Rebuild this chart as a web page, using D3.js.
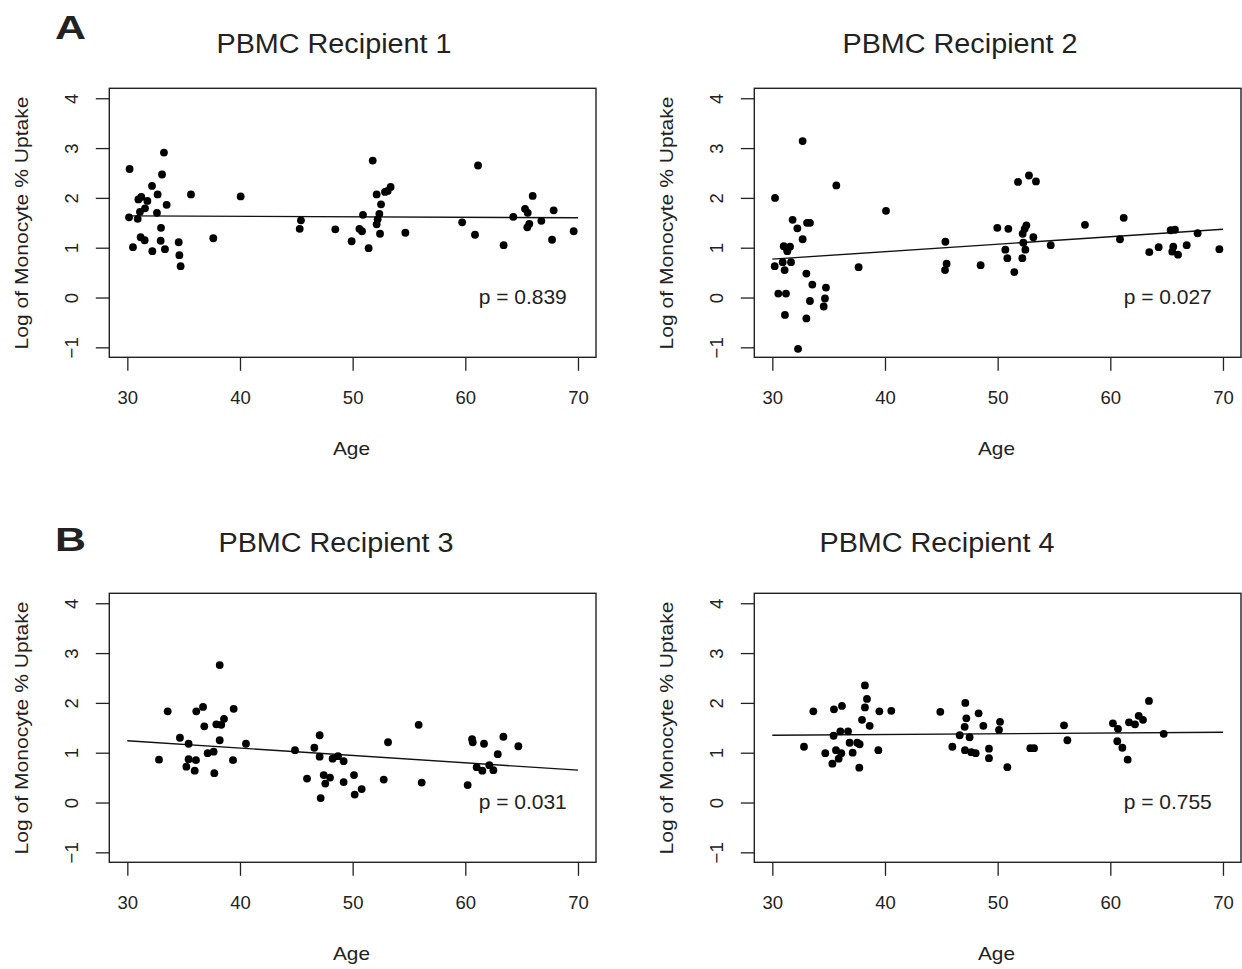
<!DOCTYPE html>
<html>
<head>
<meta charset="utf-8">
<script src="https://cdn.jsdelivr.net/npm/d3@7"></script>
<style>
  html, body { margin: 0; padding: 0; background: #fff; }
  svg { display: block; }
  text { font-family: "Liberation Sans", Arial, Helvetica, sans-serif; fill: #222; }
</style>
</head>
<body>
<svg id="chart" width="1242" height="969"></svg>
<script>
// ---------------- DATA ----------------
const panelTitles = ["PBMC Recipient 1", "PBMC Recipient 2", "PBMC Recipient 3", "PBMC Recipient 4"];
const pValues = ["p = 0.839", "p = 0.027", "p = 0.031", "p = 0.755"];
const rowLetters = ["A", "B"];
const xTicks = [30, 40, 50, 60, 70];
const yTicks = [-1, 0, 1, 2, 3, 4];
const xLabel = "Age";
const yLabel = "Log of Monocyte % Uptake";
const fitAges = [30, 70];

const ages1 = [33.25,30.2,33.08,32.19,32.69,31.24,30.98,31.78,33.49,35.65,40.06,31.57,31.12,32.63,30.15,30.92,32.99,31.18,31.54,32.96,30.5,33.34,32.22,34.56,34.62,34.73,37.63,45.41,45.30,48.46,49.91,
  51.78,61.13,53.37,53.11,52.87,52.13,65.98,52.52,65.30,65.54,67.84,50.92,52.37,64.26,52.22,66.75,52.13,65.68,65.50,59.72,50.60,50.83,52.43,54.68,51.42,60.86,63.40,67.70,69.62];
const vals1 = [2.91,2.58,2.47,2.24,2.07,2.02,1.97,1.94,1.86,2.07,2.03,1.79,1.72,1.70,1.61,1.58,1.40,1.21,1.15,1.14,1.01,0.97,0.93,1.11,0.85,0.63,1.19,1.55,1.38,1.37,1.13,
  2.75,2.65,2.22,2.14,2.12,2.07,2.04,1.87,1.78,1.70,1.75,1.66,1.68,1.62,1.57,1.54,1.47,1.48,1.41,1.51,1.38,1.33,1.28,1.30,0.99,1.26,1.05,1.16,1.33];
const fit1 = [1.64, 1.60];

const ages2 = [32.69,35.68,30.24,40.09,31.80,33.08,33.34,32.22,32.69,31.01,31.27,31.57,31.33,30.92,31.66,30.21,31.09,33.02,37.66,33.55,34.76,30.53,31.21,34.67,33.34,34.56,31.12,33.02,32.28,45.36,45.47,45.33,48.49,
  52.78,51.81,53.40,61.19,57.75,49.97,50.95,52.55,52.40,52.22,53.17,65.36,65.74,67.75,60.86,54.71,52.28,52.46,50.68,50.86,52.19,51.48,63.46,64.29,65.59,65.50,66.01,66.78,69.68];
const vals2 = [3.14,2.25,2.00,1.74,1.56,1.50,1.50,1.39,1.17,1.03,0.99,1.02,0.93,0.71,0.71,0.63,0.55,0.48,0.61,0.26,0.20,0.08,0.08,-0.02,-0.07,-0.18,-0.35,-0.42,-1.03,1.12,0.68,0.55,0.65,
  2.45,2.32,2.33,1.60,1.46,1.40,1.38,1.45,1.38,1.28,1.21,1.35,1.36,1.29,1.17,1.05,1.10,0.96,0.96,0.79,0.79,0.51,0.91,1.01,1.02,0.92,0.86,1.05,0.97];
const fit2 = [0.77, 1.37];

const ages3 = [38.20,33.58,36.12,36.72,39.44,38.58,37.90,38.34,36.83,34.67,35.44,38.20,40.53,37.13,37.66,32.81,35.44,36.09,39.38,35.24,35.98,37.72,44.88,46.60,47.07,47.07,48.22,48.70,49.20,45.95,47.43,47.99,47.57,47.16,49.20,50.12,50.18,
  55.86,53.14,60.60,60.66,61.66,63.38,64.71,62.88,50.80,52.76,56.13,60.21,61.01,61.51,62.13,62.49];
const vals3 = [2.76,1.83,1.83,1.92,1.88,1.68,1.57,1.56,1.53,1.30,1.18,1.25,1.18,0.99,1.02,0.86,0.87,0.85,0.85,0.72,0.64,0.59,1.05,1.10,1.35,0.92,0.88,0.93,0.83,0.48,0.55,0.50,0.38,0.09,0.41,0.55,0.16,
  1.56,1.21,1.27,1.21,1.18,1.32,1.13,0.97,0.27,0.46,0.40,0.35,0.71,0.64,0.75,0.65];
const fit3 = [1.24, 0.65];

const ages4 = [38.22,38.40,38.22,33.64,35.47,36.18,39.50,40.56,37.96,38.64,36.04,36.72,35.44,36.86,37.54,37.75,32.81,34.70,35.65,36.12,37.13,35.89,35.33,37.72,39.41,44.91,47.13,48.31,47.22,48.73,47.07,46.63,47.51,45.98,47.10,47.66,48.05,49.23,49.23,50.21,50.12,
  50.86,52.90,53.23,55.89,56.19,60.23,60.68,60.62,61.07,61.54,61.66,62.19,62.52,62.90,63.43,64.74];
const vals4 = [2.35,2.08,1.91,1.83,1.87,1.94,1.83,1.84,1.66,1.54,1.43,1.43,1.34,1.20,1.20,1.17,1.12,0.99,1.05,0.99,1.00,0.88,0.78,0.70,1.05,1.82,2.00,1.79,1.69,1.54,1.52,1.35,1.31,1.12,1.05,1.01,0.99,1.08,0.89,1.62,1.46,
  0.71,1.09,1.09,1.55,1.25,1.59,1.48,1.23,1.10,0.86,1.61,1.57,1.74,1.66,2.04,1.38];
const fit4 = [1.35, 1.41];

// ---------------- LAYOUT ----------------
const svg = d3.select("#chart");
const panels = [
  {ages: ages1, vals: vals1, fit: fit1, col: 0, row: 0, titleX: 334},
  {ages: ages2, vals: vals2, fit: fit2, col: 1, row: 0, titleX: 960},
  {ages: ages3, vals: vals3, fit: fit3, col: 0, row: 1, titleX: 336},
  {ages: ages4, vals: vals4, fit: fit4, col: 1, row: 1, titleX: 937}
];
const colLeft = [109.3, 754.3];
const boxW = 486.7;
const rowTop = [88.3, 593.3];
const boxH = 269;
const titleGap = [35.6, 41];
const letterY = [39.3, 551];

panels.forEach((p, i) => {
  const L = colLeft[p.col], T = rowTop[p.row];
  const x = d3.scaleLinear().domain([28.4, 71.6]).range([L, L + boxW]);
  const y = d3.scaleLinear().domain([-1.2, 4.2]).range([T + boxH, T]);
  const g = svg.append("g");

  // box
  g.append("rect").attr("x", L).attr("y", T).attr("width", boxW).attr("height", boxH)
    .attr("fill", "none").attr("stroke", "#222").attr("stroke-width", 1.4);

  // x axis
  const xa = g.append("g").attr("transform", `translate(0,${T + boxH})`)
    .call(d3.axisBottom(x).tickValues(xTicks).tickSize(13.5).tickPadding(20).tickFormat(d3.format("d")));
  xa.select(".domain").remove();
  xa.selectAll(".tick line").attr("stroke", "#222").attr("stroke-width", 1.3);
  xa.selectAll(".tick text").attr("font-size", 18.5).attr("fill", "#222")
    .attr("font-family", "Liberation Sans, Arial, sans-serif");

  // y axis
  const ya = g.append("g").attr("transform", `translate(${L},0)`)
    .call(d3.axisLeft(y).tickValues(yTicks).tickSize(13.5).tickFormat(d3.format("d")));
  ya.select(".domain").remove();
  ya.selectAll(".tick line").attr("stroke", "#222").attr("stroke-width", 1.3);
  ya.selectAll(".tick text").remove();
  ya.selectAll(".tick").append("text")
    .attr("transform", `translate(-31.5,0) rotate(-90)`)
    .attr("text-anchor", "middle")
    .attr("font-size", 18.5).attr("fill", "#222")
    .attr("font-family", "Liberation Sans, Arial, sans-serif")
    .text(d => d3.format("d")(d));

  // regression line
  g.append("line")
    .attr("x1", x(fitAges[0])).attr("y1", y(p.fit[0]))
    .attr("x2", x(fitAges[1])).attr("y2", y(p.fit[1]))
    .attr("stroke", "#111").attr("stroke-width", 1.4);

  // points
  g.selectAll("circle.pt").data(p.ages.map((a, k) => [a, p.vals[k]])).enter()
    .append("circle").attr("class", "pt")
    .attr("cx", d => x(d[0])).attr("cy", d => y(d[1])).attr("r", 3.9).attr("fill", "#000");

  // p-value
  g.append("text").attr("x", L + 457.5).attr("y", T + 215.7)
    .attr("text-anchor", "end").attr("font-size", 21).text(pValues[i]);

  // title
  g.append("text").attr("x", p.titleX).attr("y", T - titleGap[p.row])
    .attr("text-anchor", "middle").attr("font-size", 27)
    .attr("textLength", 235).attr("lengthAdjust", "spacingAndGlyphs")
    .text(panelTitles[i]);

  // x label
  g.append("text").attr("x", L + 242.2).attr("y", T + 366.7)
    .attr("text-anchor", "middle").attr("font-size", 19)
    .attr("textLength", 37).attr("lengthAdjust", "spacingAndGlyphs")
    .text(xLabel);

  // y label
  g.append("text")
    .attr("transform", `translate(${L - 81.5},${T + 134.7}) rotate(-90)`)
    .attr("text-anchor", "middle").attr("font-size", 19)
    .attr("textLength", 253).attr("lengthAdjust", "spacingAndGlyphs")
    .text(yLabel);
});

// row letters
rowLetters.forEach((t, r) => {
  svg.append("text").attr("x", 55).attr("y", letterY[r])
    .attr("font-size", 34).attr("font-weight", "bold").attr("fill", "#000")
    .attr("textLength", 31).attr("lengthAdjust", "spacingAndGlyphs")
    .text(t);
});
</script>
</body>
</html>
